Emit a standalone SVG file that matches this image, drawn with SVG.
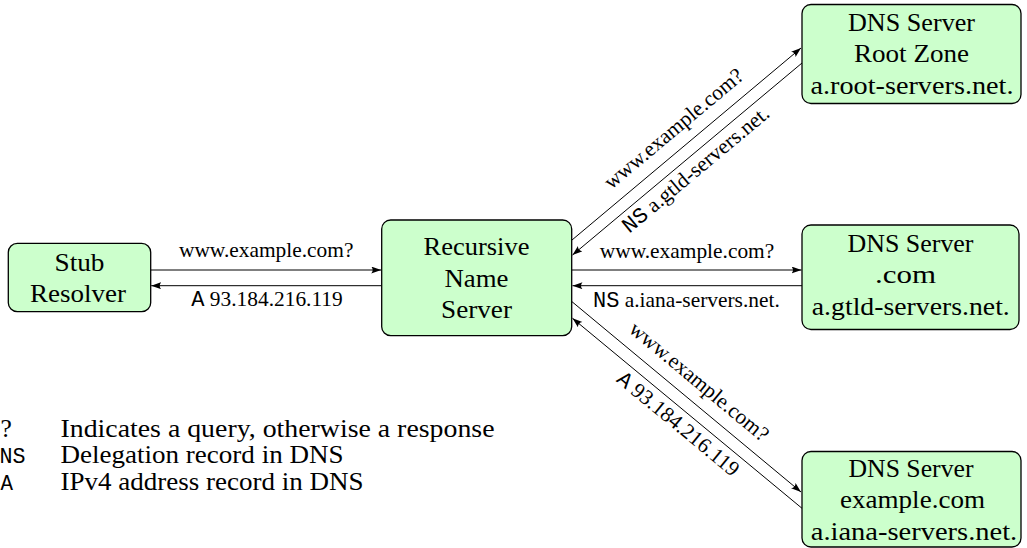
<svg xmlns="http://www.w3.org/2000/svg" width="1027" height="548" viewBox="0 0 1027 548">
<style>
.box{fill:#ccffcc;stroke:#000;stroke-width:1.3}
.nt{font-family:'Liberation Serif','Times New Roman','DejaVu Serif',serif;font-size:25.5px;fill:#000;text-anchor:middle}
.lb{font-family:'Liberation Serif','Times New Roman','DejaVu Serif',serif;font-size:21.4px;fill:#000;text-anchor:middle}
.mono{font-family:'Liberation Mono','Courier New','DejaVu Sans Mono',monospace;font-size:22px}
.lg{font-family:'Liberation Serif','Times New Roman','DejaVu Serif',serif;font-size:25.5px;fill:#000}
.lgm{font-family:'Liberation Mono','Courier New','DejaVu Sans Mono',monospace;font-size:22.5px;fill:#000}
.edge{stroke:#000;stroke-width:1;fill:none;marker-end:url(#ah)}
</style>
<defs>
<marker id="ah" markerUnits="userSpaceOnUse" markerWidth="11" markerHeight="8" refX="10" refY="3.5" orient="auto">
<path d="M0,0 Q3,3.5 0,7 L10,3.5 Z" fill="#000"/>
</marker>
</defs>
<rect width="1027" height="548" fill="#fff"/>
<g id="connectors">
<line class="edge" x1="150.7" y1="270" x2="381.2" y2="270"/>
<line class="edge" x1="381.7" y1="285.7" x2="151.2" y2="285.7"/>
<line class="edge" x1="572" y1="240" x2="801" y2="48"/>
<line class="edge" x1="802" y1="63" x2="572.5" y2="255"/>
<line class="edge" x1="572" y1="270" x2="801.5" y2="270"/>
<line class="edge" x1="802" y1="285.7" x2="572.5" y2="285.7"/>
<line class="edge" x1="572" y1="301.7" x2="801" y2="492"/>
<line class="edge" x1="802" y1="508.3" x2="572.5" y2="318.3"/>
<text class="lb" x="266.2" y="257">www.example.com?</text>
<text class="lb" x="267" y="306"><tspan class="mono">A</tspan> 93.184.216.119</text>
<text class="lb" x="687" y="258">www.example.com?</text>
<text class="lb" x="686.4" y="306.7"><tspan class="mono">NS</tspan> a.iana-servers.net.</text>
<text class="lb" transform="translate(678.1,134) rotate(-39.98)">www.example.com?</text>
<text class="lb" transform="translate(700.1,174.7) rotate(-39.86)"><tspan class="mono">NS</tspan> a.gtld-servers.net.</text>
<text class="lb" transform="translate(694.8,386.85) rotate(39.7)">www.example.com?</text>
<text class="lb" transform="translate(673.9,429.1) rotate(39.56)"><tspan class="mono">A</tspan> 93.184.216.119</text>
</g>
<g id="stub">
<rect class="box" x="8.3" y="243.3" width="142.4" height="68.4" rx="9"/>
<text class="nt" x="79.5" y="271" textLength="50" lengthAdjust="spacingAndGlyphs">Stub</text>
<text class="nt" x="78" y="302.3" textLength="96" lengthAdjust="spacingAndGlyphs">Resolver</text>
</g>
<g id="recursive">
<rect class="box" x="381.7" y="220" width="190" height="115.7" rx="9"/>
<text class="nt" x="476.5" y="255" textLength="106" lengthAdjust="spacingAndGlyphs">Recursive</text>
<text class="nt" x="476.5" y="286.7" textLength="64" lengthAdjust="spacingAndGlyphs">Name</text>
<text class="nt" x="476.5" y="318.3" textLength="71" lengthAdjust="spacingAndGlyphs">Server</text>
</g>
<g id="root">
<rect class="box" x="802" y="4.5" width="219" height="99" rx="9"/>
<text class="nt" x="911.5" y="30.6" textLength="127" lengthAdjust="spacingAndGlyphs">DNS Server</text>
<text class="nt" x="911.5" y="62.2" textLength="115" lengthAdjust="spacingAndGlyphs">Root Zone</text>
<text class="nt" x="912" y="93.8" textLength="203" lengthAdjust="spacingAndGlyphs">a.root-servers.net.</text>
</g>
<g id="com">
<rect class="box" x="802" y="225" width="217" height="104.5" rx="9"/>
<text class="nt" x="910.5" y="251.7" textLength="126" lengthAdjust="spacingAndGlyphs">DNS Server</text>
<text class="nt" x="905.5" y="283.3" textLength="61" lengthAdjust="spacingAndGlyphs">.com</text>
<text class="nt" x="910.8" y="314.9" textLength="198" lengthAdjust="spacingAndGlyphs">a.gtld-servers.net.</text>
</g>
<g id="examplecom">
<rect class="box" x="802" y="451.5" width="219" height="95.5" rx="9"/>
<text class="nt" x="911" y="476.7" textLength="125" lengthAdjust="spacingAndGlyphs">DNS Server</text>
<text class="nt" x="912.5" y="508.3" textLength="145" lengthAdjust="spacingAndGlyphs">example.com</text>
<text class="nt" x="914" y="539.9" textLength="206.5" lengthAdjust="spacingAndGlyphs">a.iana-servers.net.</text>
</g>
<g id="legend">
<text class="lg" x="0.5" y="437">?</text>
<text class="lgm" x="-0.5" y="463.3" textLength="26" lengthAdjust="spacingAndGlyphs">NS</text>
<text class="lgm" x="0.5" y="489.6" textLength="12.5" lengthAdjust="spacingAndGlyphs">A</text>
<text class="lg" x="60.5" y="437" textLength="434" lengthAdjust="spacingAndGlyphs">Indicates a query, otherwise a response</text>
<text class="lg" x="60.5" y="463.3" textLength="283" lengthAdjust="spacingAndGlyphs">Delegation record in DNS</text>
<text class="lg" x="60.5" y="489.6" textLength="303" lengthAdjust="spacingAndGlyphs">IPv4 address record in DNS</text>
</g>
</svg>
